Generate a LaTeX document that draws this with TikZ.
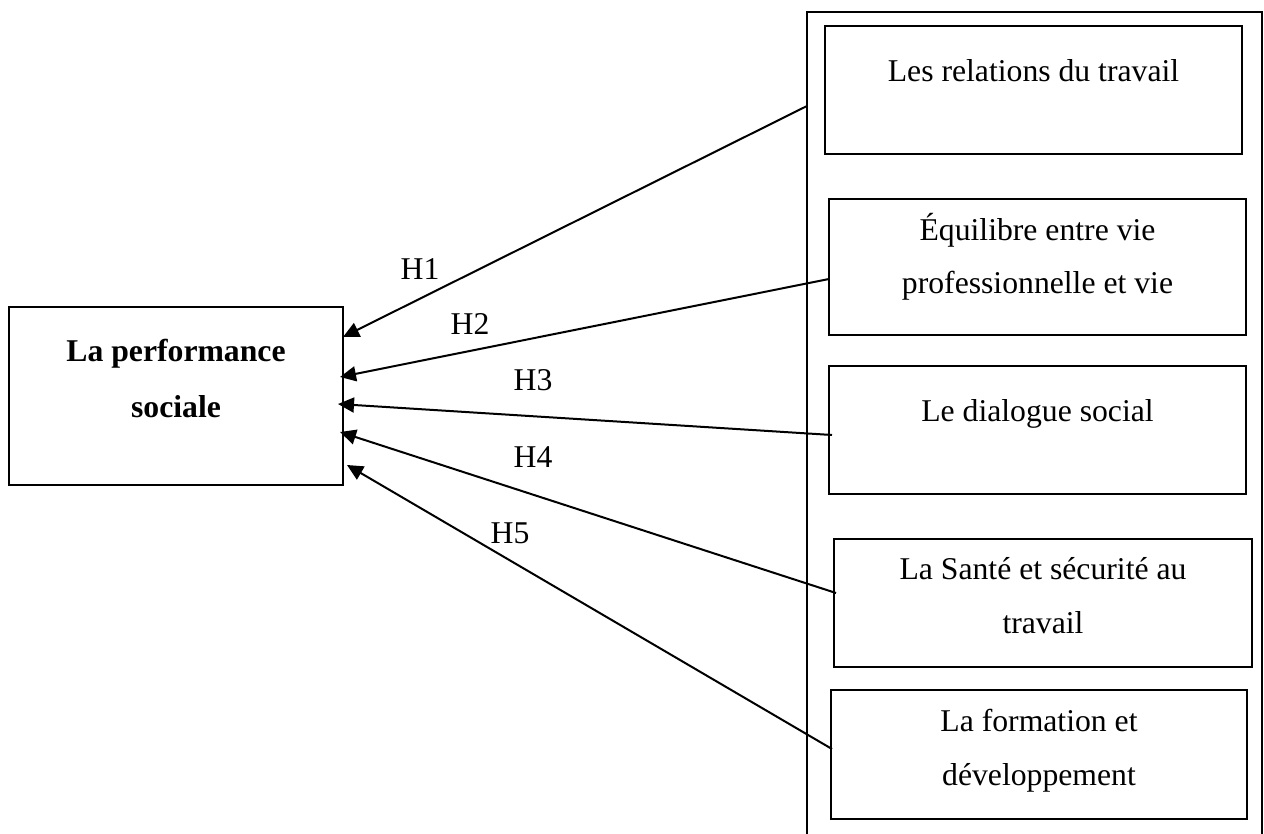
\documentclass[tikz,border=0pt]{standalone}
\usepackage{fontspec}
\setmainfont{Liberation Serif}
\usetikzlibrary{arrows.meta}
\tikzset{
  box/.style={draw, line width=1.3pt, inner sep=0pt, fill=none},
  txt/.style={anchor=base, inner sep=0pt, font=\fontsize{15.85pt}{27.5pt}\selectfont},
  btxt/.style={txt, font=\fontsize{15.85pt}{27.5pt}\selectfont\bfseries},
  arr/.style={line width=1pt, -{Triangle[length=8pt,width=7.5pt]}},
  frame/.style={line width=1.3pt}
}
\begin{document}
\begin{tikzpicture}[x=0.5pt,y=-0.5pt]
\useasboundingbox (0,0) rectangle (1264,834);
% outer frame (open at the bottom)
\coordinate (fbl) at (807,845);
\coordinate (ftl) at (807,12);
\coordinate (ftr) at (1262,12);
\coordinate (fbr) at (1262,845);
\draw[frame] (fbl) -- (ftl) -- (ftr) -- (fbr);
% boxes
\node[box, minimum width=167pt, minimum height=89pt] (perf) at (176,396) {};
\node[box, minimum width=208.5pt, minimum height=64pt] (b1) at (1033.5,90) {};
\node[box, minimum width=208.5pt, minimum height=68pt] (b2) at (1037.5,267) {};
\node[box, minimum width=208.5pt, minimum height=64pt] (b3) at (1037.5,430) {};
\node[box, minimum width=209pt, minimum height=64pt] (b4) at (1043,603) {};
\node[box, minimum width=208pt, minimum height=64.5pt] (b5) at (1039,754.5) {};
% texts
\node[btxt] (p1) at (176,361) {La performance};
\node[btxt] (p2) at (176,417) {sociale};
\node[txt] (t1) at (1033.5,82) {Les relations du travail};
\node[txt] (t2a) at (1037.5,241) {Équilibre entre vie};
\node[txt] (t2b) at (1037.5,294) {professionnelle et vie};
\node[txt] (t3) at (1037.5,422) {Le dialogue social};
\node[txt] (t4a) at (1043,579) {La Santé et sécurité au};
\node[txt] (t4b) at (1043,633) {travail};
\node[txt] (t5a) at (1039,731) {La formation et};
\node[txt] (t5b) at (1039,785) {développement};
% connector ends
\coordinate (s1) at (807,106);
\coordinate (s2) at (829,279);
\coordinate (s3) at (832,435);
\coordinate (s4) at (836,593);
\coordinate (s5) at (832,749);
\coordinate (e1) at (343,337);
\coordinate (e2) at (340,377);
\coordinate (e3) at (338,404);
\coordinate (e4) at (340,432);
\coordinate (e5) at (347,465);
\draw[arr] (s1) -- (e1);
\draw[arr] (s2) -- (e2);
\draw[arr] (s3) -- (e3);
\draw[arr] (s4) -- (e4);
\draw[arr] (s5) -- (e5);
% hypothesis labels
\node[txt] (h1) at (420,280) {H1};
\node[txt] (h2) at (470,335) {H2};
\node[txt] (h3) at (533,390) {H3};
\node[txt] (h4) at (533,467) {H4};
\node[txt] (h5) at (510,543) {H5};
\end{tikzpicture}
\end{document}
